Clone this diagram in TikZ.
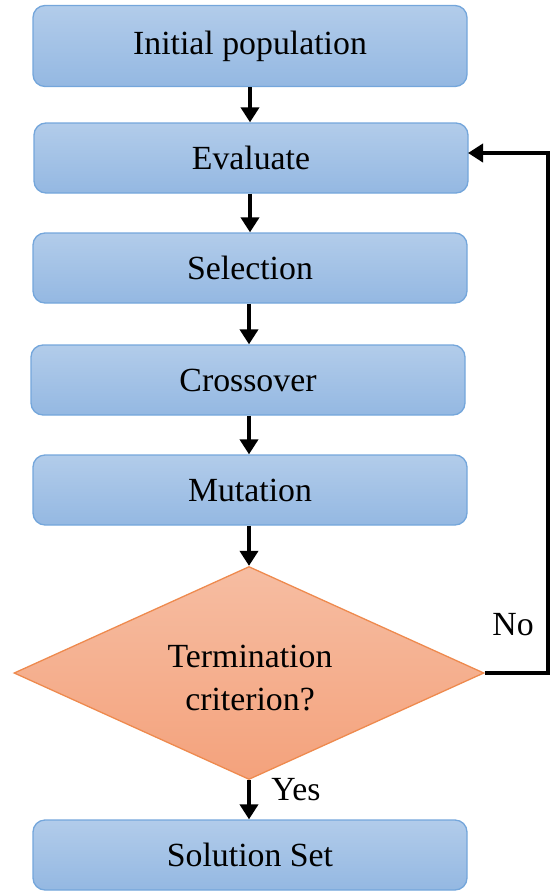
\documentclass[tikz,border=0pt]{standalone}
\usepackage{fontspec}
\setmainfont{Liberation Serif}
\usetikzlibrary{shapes.geometric,arrows.meta}
\definecolor{boxtop}{HTML}{B2CCEA}
\definecolor{boxbot}{HTML}{94B8E2}
\definecolor{boxline}{HTML}{74A6DB}
\definecolor{diatop}{HTML}{F6BDA2}
\definecolor{diabot}{HTML}{F4A27C}
\definecolor{dialine}{HTML}{EE8A4E}
\tikzset{
  stepbox/.style={rectangle, rounded corners=12pt, draw=boxline, line width=1.3pt,
    top color=boxtop, bottom color=boxbot, minimum width=434pt, minimum height=70pt,
    inner sep=0pt, font=\rmfamily\fontsize{33.8}{40}\selectfont},
  decide/.style={diamond, draw=dialine, line width=1.3pt, top color=diatop, bottom color=diabot,
    minimum width=470pt, minimum height=213pt, inner sep=0pt},
  decidetext/.style={align=center, inner sep=0pt, font=\rmfamily\fontsize{33.8}{43}\selectfont},
  flow/.style={line width=3.8pt, -{Triangle[width=18pt,length=15pt]}},
  lbl/.style={font=\rmfamily\fontsize{33.8}{40}\selectfont, inner sep=0pt}
}
\begin{document}
\begin{tikzpicture}[x=1pt,y=-1pt]
\useasboundingbox (0,0) rectangle (550,891);
\node[stepbox, minimum height=81pt] (init) at (250,46) {Initial population};
\node[stepbox] (eval) at (251,158) {Evaluate};
\node[stepbox] (sel) at (250,268) {Selection};
\node[stepbox] (cross) at (248,380) {Crossover};
\node[stepbox] (mut) at (250,490) {Mutation};
\node[decide] (term) at (249,673) {};
\node[decidetext] (termtxt) at (250,678) {Termination\\criterion?};
\node[stepbox] (sol) at (250,855) {Solution Set};
\node[lbl] (yes) at (296,790) {Yes};
\node[lbl] (no) at (513,625) {No};
\coordinate (c1) at (548,673);
\coordinate (c2) at (548,153);
\coordinate (c3) at (468,153);
\draw[flow] (init.south -| 250,0) -- (eval.north -| 250,0);
\draw[flow] (eval.south -| 250,0) -- (sel.north -| 250,0);
\draw[flow] (sel.south -| 249,0) -- (cross.north -| 249,0);
\draw[flow] (cross.south -| 249,0) -- (mut.north -| 249,0);
\draw[flow] (mut.south -| 249,0) -- (term.north);
\draw[flow] (term.south) -- (sol.north -| term.south);
\draw[flow] (term.east) -- (c1) -- (c2) -- (c3);
\end{tikzpicture}
\end{document}
